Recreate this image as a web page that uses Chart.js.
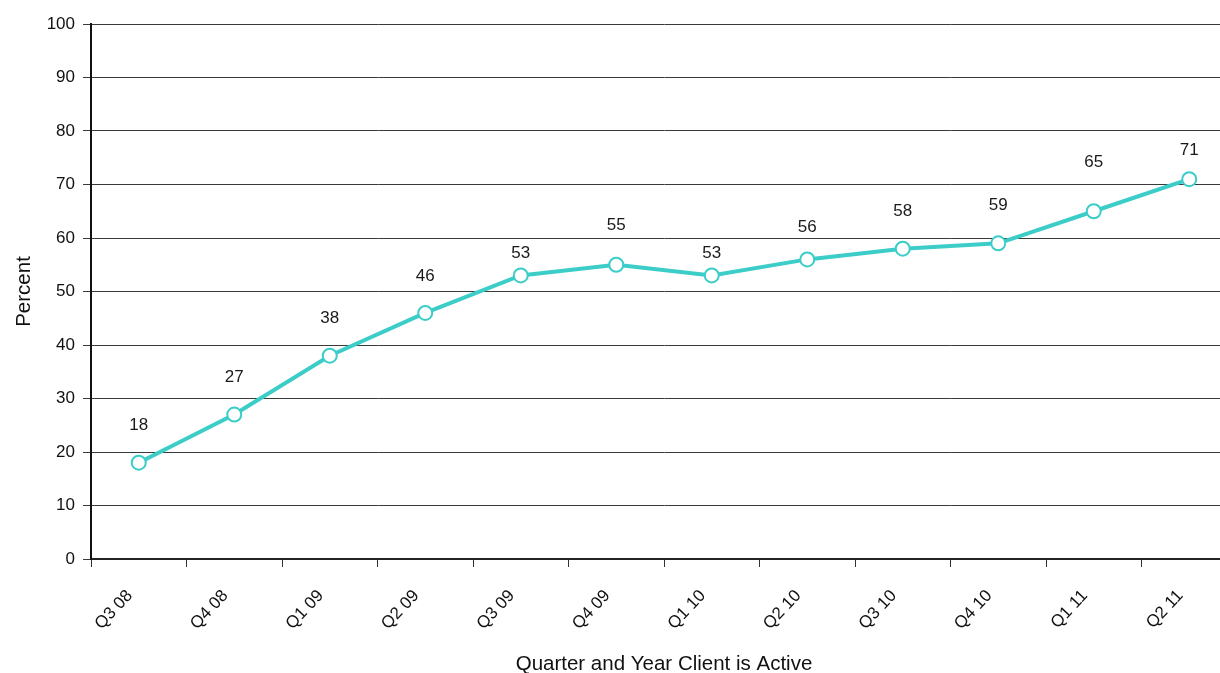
<!DOCTYPE html>
<html>
<head>
<meta charset="utf-8">
<script src="https://cdn.jsdelivr.net/npm/chart.js@4/dist/chart.umd.min.js"></script>
<style>
  html, body { margin: 0; padding: 0; background: #fff; overflow: hidden; }
  #wrap { width: 1246px; height: 673px; }
</style>
</head>
<body>
<div id="wrap"><canvas id="activeChart" width="1246" height="673"></canvas></div>
<script>
// ========================================
// Active clients by quarter
// ========================================
const quarters = ['Q3 08', 'Q4 08', 'Q1 09', 'Q2 09', 'Q3 09', 'Q4 09',
                  'Q1 10', 'Q2 10', 'Q3 10', 'Q4 10', 'Q1 11', 'Q2 11'];
const percentActive = [18, 27, 38, 46, 53, 55, 53, 56, 58, 59, 65, 71];
const yTicks = [0, 10, 20, 30, 40, 50, 60, 70, 80, 90, 100];

const TEAL = '#3ccdc9';
const FONT = '"Liberation Sans", Arial, sans-serif';

// draws the value above each point (Excel-style data labels)
const valueLabels = {
  id: 'valueLabels',
  afterDatasetsDraw(chart, args, opts) {
    const { ctx } = chart;
    const meta = chart.getDatasetMeta(0);
    ctx.save();
    ctx.font = '17px ' + FONT;
    ctx.fillStyle = '#1a1a1a';
    ctx.textAlign = 'center';
    ctx.textBaseline = 'middle';
    meta.data.forEach((pt, i) => {
      const lift = opts.lift[i] ?? 36;
      ctx.fillText(String(percentActive[i]), pt.x, pt.y - lift);
    });
    ctx.restore();
  }
};

new Chart(document.getElementById('activeChart'), {
  type: 'line',
  data: {
    labels: quarters,
    datasets: [{
      data: percentActive,
      borderColor: TEAL,
      borderWidth: 4,
      pointRadius: 7,
      pointHoverRadius: 7,
      pointBorderWidth: 2,
      pointBorderColor: TEAL,
      pointBackgroundColor: '#fff',
      tension: 0,
    }]
  },
  options: {
    responsive: false,
    animation: false,
    layout: { padding: { top: 24, right: 3, left: 12, bottom: 0 } },
    plugins: {
      legend: { display: false },
      tooltip: { enabled: false },
      valueLabels: { lift: [37, 37, 37, 37, 22, 39, 22, 32, 37, 38, 49, 29] }
    },
    scales: {
      x: {
        offset: true,
        grid: {
          offset: true,
          drawOnChartArea: false,
          drawTicks: true,
          tickLength: 8,
          color: '#333',
        },
        border: { color: '#222', width: 2 },
        ticks: {
          color: '#111',
          font: { family: FONT, size: 17 },
          minRotation: 47,
          maxRotation: 47,
          padding: 19,
          labelOffset: -9,
          autoSkip: false,
        },
        title: {
          display: true,
          text: 'Quarter and Year Client is Active',
          color: '#111',
          font: { family: FONT, size: 20.5 },
          padding: { top: 0, bottom: -4 },
        },
        afterFit: (s) => { s.height = 114; }
      },
      y: {
        min: 0,
        max: 100,
        afterBuildTicks: (s) => { s.ticks = yTicks.map(v => ({ value: v })); },
        grid: { color: '#3a3a3a', lineWidth: 1, tickLength: 8 },
        border: { color: '#111', width: 2 },
        ticks: {
          color: '#111',
          font: { family: FONT, size: 17 },
          padding: 8,
        },
        title: {
          display: true,
          text: 'Percent',
          color: '#111',
          font: { family: FONT, size: 20.5 },
          padding: { top: 0, bottom: 0 },
        },
        afterFit: (s) => { s.width = 79; }
      }
    }
  },
  plugins: [valueLabels]
});
</script>
</body>
</html>
